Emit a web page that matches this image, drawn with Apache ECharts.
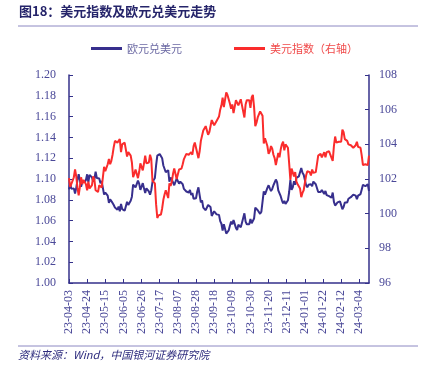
<!DOCTYPE html>
<html>
<head>
<meta charset="utf-8">
<script src="https://cdn.jsdelivr.net/npm/echarts@6/dist/echarts.min.js"></script>
<style>
  html, body { margin: 0; padding: 0; background: #fff; }
  #chart { width: 421px; height: 367px; }
</style>
</head>
<body>
<div id="chart"></div>
<script>
// 交易日（工作日）2023-04-03 ~ 2024-03-14
const startDay = new Date(2023, 3, 3)
const endDay = new Date(2024, 2, 14)
const dates = []
for (let d = new Date(startDay); d <= endDay; d.setDate(d.getDate() + 1)) {
  const w = d.getDay()
  if (w === 0 || w === 6) continue
  const yy = String(d.getFullYear()).slice(2)
  const mm = String(d.getMonth() + 1).padStart(2, '0')
  const dd = String(d.getDate()).padStart(2, '0')
  dates.push(`${yy}-${mm}-${dd}`)
}

// 欧元兑美元（左轴）
const eurusd = [
  1.0900,1.0955,1.0905,1.0920,1.0910,1.0860,1.0915,1.0990,1.1045,1.0990,1.0925,1.0970,1.0955,1.0970,1.0990,1.1045,1.0970,1.1040,1.1025,1.1015,
  1.0975,1.1000,1.1070,1.1010,1.1020,1.1005,1.0960,1.0980,1.0915,1.0850,1.0870,1.0860,1.0840,1.0770,1.0805,1.0810,1.0770,1.0750,1.0725,1.0720,1.0705,1.0735,1.0690,
  1.0760,1.0710,1.0715,1.0695,1.0700,1.0780,1.0750,1.0750,1.0790,1.0830,1.0945,1.0940,1.0920,1.0920,1.0985,1.0955,1.0895,1.0905,1.0960,1.0910,1.0865,1.0910,
  1.0910,1.0880,1.0850,1.0890,1.0970,1.0970,1.1010,1.1130,1.1225,1.1230,1.1240,1.1225,1.1200,1.1130,1.1125,1.1065,1.1055,1.1085,1.0975,1.1015,1.0995,
  1.0985,1.0940,1.0945,1.1005,1.1005,1.0955,1.0975,1.0980,1.0950,1.0905,1.0905,1.0880,1.0875,1.0870,1.0895,1.0845,1.0865,1.0810,1.0795,1.0815,1.0880,1.0920,1.0845,
  1.0775,1.0795,1.0725,1.0725,1.0700,1.0700,1.0750,1.0755,1.0730,1.0645,1.0660,1.0690,1.0680,1.0660,1.0660,1.0655,1.0595,1.0570,1.0505,1.0565,1.0575,
  1.0475,1.0470,1.0505,1.0550,1.0590,1.0565,1.0605,1.0620,1.0530,1.0510,1.0560,1.0575,1.0535,1.0580,1.0595,1.0670,1.0590,1.0565,1.0565,1.0565,1.0615,1.0575,
  1.0570,1.0620,1.0725,1.0720,1.0700,1.0710,1.0665,1.0685,1.0700,1.0880,1.0850,1.0850,1.0915,1.0940,1.0910,1.0885,1.0905,1.0940,1.0955,1.0995,1.0970,1.0890,
  1.0885,1.0835,1.0795,1.0765,1.0790,1.0760,1.0765,1.0795,1.0875,1.0990,1.0895,1.0920,1.0980,1.0945,1.1010,1.1015,1.1025,1.1040,1.1105,1.1060,1.1040,
  1.1040,1.0940,1.0920,1.0945,1.0940,1.0950,1.0930,1.0975,1.0975,1.0950,1.0950,1.0875,1.0885,1.0875,1.0895,1.0885,1.0855,1.0885,1.0845,1.0850,1.0835,1.0845,1.0820,
  1.0870,1.0780,1.0745,1.0755,1.0775,1.0775,1.0785,1.0770,1.0710,1.0730,1.0775,1.0775,1.0775,1.0810,1.0820,1.0825,1.0820,1.0850,1.0845,1.0840,1.0805,
  1.0840,1.0855,1.0855,1.0900,1.0945,1.0940,1.0930,1.0925,1.0950,1.0885
]

// 美元指数（右轴）
const dxy = [
  102.05,101.55,101.60,101.90,102.10,102.55,102.15,101.50,101.05,101.55,102.10,101.70,101.95,101.85,101.70,101.35,101.85,101.45,101.55,101.65,
  102.15,101.95,101.35,101.40,101.25,101.65,101.60,101.50,102.10,102.70,102.45,102.55,102.85,103.15,102.85,103.05,103.40,103.85,104.20,104.20,104.10,104.05,104.30,
  103.55,104.00,104.00,104.10,104.10,103.30,103.55,103.60,103.35,102.95,102.10,102.30,102.55,102.50,102.05,102.40,102.90,102.70,102.50,102.90,103.35,102.90,
  102.95,102.95,103.40,103.15,101.90,101.95,101.75,100.55,99.75,99.90,99.85,99.95,100.30,100.80,101.10,101.35,101.30,100.90,101.75,101.60,101.85,
  102.30,102.60,102.55,102.00,102.05,102.55,102.50,102.60,102.85,103.15,103.20,103.45,103.55,103.40,103.30,103.55,103.40,103.90,104.10,104.05,103.50,103.20,103.60,
  104.20,104.20,104.80,104.85,105.05,105.05,104.55,104.70,104.75,105.40,105.30,105.10,105.15,105.35,105.35,105.60,106.00,106.25,106.70,106.15,106.20,
  107.00,106.85,106.80,106.35,106.05,106.30,105.80,105.75,106.55,106.65,106.25,106.20,106.60,106.25,106.15,105.55,106.30,106.55,106.65,106.55,106.10,106.70,
  106.85,106.15,105.05,105.25,105.55,105.55,105.90,105.85,105.65,104.05,104.35,104.35,103.90,103.45,103.60,103.90,103.75,103.40,103.20,102.80,102.80,103.50,
  103.25,103.70,104.00,104.15,103.65,104.00,104.05,103.80,102.90,101.95,102.60,102.55,102.15,102.40,101.85,101.70,101.70,101.45,100.95,101.20,101.35,
  101.35,102.20,102.45,102.40,102.40,102.20,102.55,102.35,102.30,102.40,102.35,103.35,103.40,103.45,103.25,103.30,103.55,103.25,103.55,103.45,103.60,103.40,103.30,
  103.05,103.90,104.45,104.10,104.05,104.15,104.10,104.15,104.85,104.70,104.30,104.25,104.20,104.00,103.95,103.95,103.95,103.80,103.80,103.95,104.15,
  103.85,103.85,103.80,103.35,102.80,102.70,102.85,102.95,102.80,103.35
]

const seriesNames = ['欧元兑美元', '美元指数（右轴）']

const axisColor = '#34318a'
const labelColor = '#4a4898'
const latin = 'Liberation Serif'
const cjk = "'Noto Sans CJK SC', sans-serif"

const myChart = echarts.init(document.getElementById('chart'), null, { renderer: 'canvas' })

myChart.setOption({
  animation: false,
  backgroundColor: '#fff',
  graphic: [
    {
      type: 'text', left: 19, top: 5,
      style: { text: '图18：美元指数及欧元兑美元走势', fill: '#25246a', font: `bold 13px ${cjk}` }
    },
    {
      type: 'line', shape: { x1: 18, y1: 26, x2: 418, y2: 26 },
      style: { stroke: '#8c88c2', lineWidth: 1 }
    },
    {
      type: 'line', shape: { x1: 18, y1: 346, x2: 418, y2: 346 },
      style: { stroke: '#8c88c2', lineWidth: 1 }
    },
    {
      type: 'text', left: 18, top: 349,
      style: { text: '资料来源：Wind，中国银河证券研究院', fill: '#2e2c7e', font: `italic 11px ${cjk}` }
    }
  ],
  legend: {
    left: 86,
    top: 38,
    itemWidth: 31,
    itemHeight: 3,
    itemGap: 52,
    icon: 'rect',
    textStyle: { fontFamily: cjk, fontSize: 11 },
    data: [
      { name: seriesNames[0], textStyle: { color: '#6b69a3' } },
      { name: seriesNames[1], textStyle: { color: '#f04a4a' } }
    ]
  },
  grid: { left: 69, right: 52, top: 75, bottom: 84 },
  xAxis: {
    type: 'category',
    data: dates,
    boundaryGap: false,
    axisLine: { lineStyle: { color: axisColor, width: 1.5 } },
    axisTick: { inside: true, interval: 14, length: 4, lineStyle: { color: axisColor } },
    axisLabel: {
      interval: 14, rotate: 90, margin: 7,
      color: labelColor, fontFamily: latin, fontSize: 12
    },
    splitLine: { show: false }
  },
  yAxis: [
    {
      type: 'value', min: 1.0, max: 1.2, interval: 0.02,
      axisLine: { show: true, lineStyle: { color: axisColor, width: 1.5 } },
      axisTick: { show: true, inside: true, length: 4, lineStyle: { color: axisColor } },
      axisLabel: {
        margin: 13, color: labelColor, fontFamily: latin, fontSize: 12,
        formatter: v => v.toFixed(2)
      },
      splitLine: { show: false }
    },
    {
      type: 'value', min: 96, max: 108, interval: 2,
      axisLine: { show: true, lineStyle: { color: axisColor, width: 1.5 } },
      axisTick: { show: true, inside: true, length: 4, lineStyle: { color: axisColor } },
      axisLabel: { margin: 10, color: labelColor, fontFamily: latin, fontSize: 12 },
      splitLine: { show: false }
    }
  ],
  series: [
    {
      name: seriesNames[0],
      type: 'line',
      yAxisIndex: 0,
      data: eurusd,
      symbol: 'none',
      color: '#372f8d',
      lineStyle: { width: 2, color: '#372f8d' }
    },
    {
      name: seriesNames[1],
      type: 'line',
      yAxisIndex: 1,
      data: dxy,
      symbol: 'none',
      color: '#fa2c2c',
      lineStyle: { width: 2, color: '#fa2c2c' }
    }
  ]
})
</script>
</body>
</html>
